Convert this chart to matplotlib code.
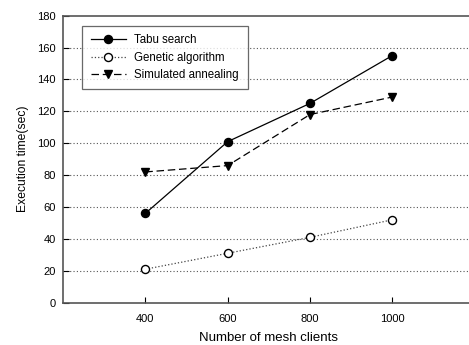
import matplotlib
matplotlib.use("Agg")
import matplotlib.pyplot as plt

plt.rcParams['font.family'] = ['Liberation Sans', 'DejaVu Sans']

clients = [400, 600, 800, 1000]
tabu = [56, 101, 125, 155]
genetic = [21, 31, 41, 52]
annealing = [82, 86, 118, 129]
yticks = [0, 20, 40, 60, 80, 100, 120, 140, 160, 180]

fig = plt.figure(figsize=(4.69, 3.45), dpi=100)
ax = fig.add_axes([63 / 469, 1 - 302.7 / 345, 1.012 - 63 / 469, (302.7 - 15.7) / 345])

ax.plot(clients, tabu, '-', color='black', lw=0.9, marker='o', ms=5.8,
        mfc='black', mec='black', label='Tabu search')
ax.plot(clients, genetic, ':', color='#444444', lw=0.9, marker='o', ms=5.8,
        mfc='white', mec='black', label='Genetic algorithm')
ax.plot(clients, annealing, '--', color='black', lw=0.9, marker='v', ms=6.2,
        mfc='black', mec='black', label='Simulated annealing', dashes=(6, 3))

ax.set_xlim(200, 1200)
ax.set_ylim(0, 180)
ax.set_xticks(clients)
ax.set_yticks(yticks)
ax.tick_params(axis='both', direction='in', length=4, width=0.8,
               labelsize=8, colors='black')
ax.tick_params(axis='x', pad=8)
ax.tick_params(axis='y', pad=5)
for s in ax.spines.values():
    s.set_color('#555555')
    s.set_linewidth(1.2)

for y in yticks[1:-1]:
    ax.axhline(y, color='#555555', lw=0.8, ls=(0, (1, 2)), zorder=0)

ax.set_xlabel('Number of mesh clients', fontsize=9.5, labelpad=6)
ax.set_ylabel('Execution time(sec)', fontsize=8.7, labelpad=6)

leg = ax.legend(loc='upper left', bbox_to_anchor=(0.032, 0.985), fontsize=8.3,
                frameon=True, fancybox=False, handlelength=3.1,
                borderpad=0.75, labelspacing=0.45, handletextpad=0.7)
leg.get_frame().set_edgecolor('#444444')
leg.get_frame().set_linewidth(0.9)

fig.savefig('out.png', dpi=100)
